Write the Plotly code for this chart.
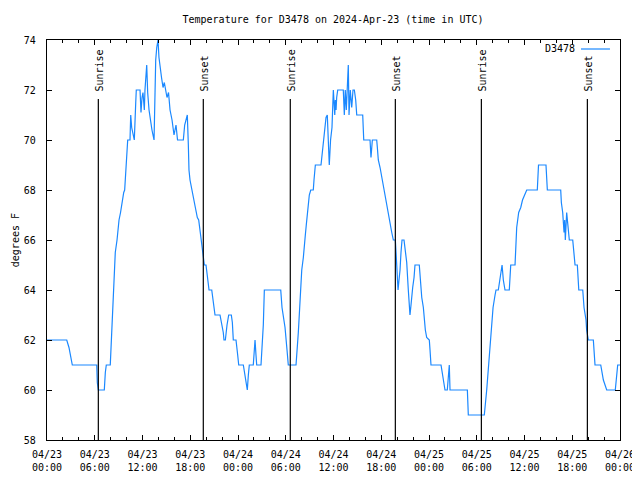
import pandas as pd
import plotly.graph_objects as go

# ---- data ----
start = "2024-04-23 00:00"
station = "D3478"
hours = [0.00, 2.48, 2.76, 2.95, 3.18, 6.25, 6.32, 6.45, 7.20, 7.33, 7.45, 7.95, 8.08, 8.26, 8.38, 8.46, 8.58,
         8.80, 8.92, 9.05, 9.24, 9.39, 9.51, 9.64, 9.76, 9.84, 9.99, 10.09, 10.14, 10.43, 10.52, 10.64, 10.81,
         10.97, 11.15, 11.22, 11.69, 11.81, 11.94, 12.06, 12.23, 12.31, 12.53, 12.65, 12.82, 13.01, 13.19,
         13.45, 13.66, 13.79, 13.95, 14.07, 14.20, 14.39, 14.58, 14.74, 15.08, 15.27, 15.46, 15.71, 15.96,
         16.21, 16.40, 17.13, 17.30, 17.47, 17.63, 17.76, 17.84, 17.97, 18.18, 18.38, 18.64, 18.89, 19.06,
         19.26, 19.39, 19.52, 19.64, 19.77, 19.98, 20.11, 20.23, 20.36, 20.70, 20.95, 21.11, 21.74, 21.99,
         22.15, 22.24, 22.41, 22.62, 22.83, 23.16, 23.29, 23.41, 23.75, 23.96, 24.09, 24.67, 24.88, 25.17,
         25.30, 25.42, 25.92, 26.05, 26.14, 26.26, 26.35, 26.89, 26.98, 27.18, 27.31, 29.37, 29.53, 29.70,
         29.91, 30.16, 30.32, 31.29, 31.45, 31.58, 31.70, 31.79, 31.92, 32.01, 32.21, 32.33, 32.46, 32.58,
         32.71, 32.84, 32.96, 33.14, 33.46, 33.55, 33.72, 34.43, 34.52, 34.65, 34.72, 34.85, 35.06, 35.22,
         35.47, 35.63, 35.81, 35.98, 36.07, 36.16, 36.23, 36.32, 36.40, 36.53, 37.23, 37.36, 37.48, 37.61,
         37.86, 37.95, 38.11, 38.29, 38.45, 38.62, 38.79, 38.92, 39.67, 39.80, 40.59, 40.71, 40.88, 41.43,
         41.51, 41.63, 41.85, 42.01, 42.19, 42.26, 42.47, 42.69, 42.89, 43.10, 43.32, 43.52, 43.77, 43.86,
         43.98, 44.11, 44.23, 44.36, 44.48, 44.61, 44.86, 44.99, 45.20, 45.40, 45.55, 45.61, 45.74, 45.87,
         45.95, 46.12, 46.24, 46.78, 46.94, 47.09, 47.29, 47.41, 47.54, 47.71, 48.04, 48.13, 48.25, 49.51,
         49.72, 50.01, 50.30, 50.43, 50.55, 50.64, 52.82, 52.94, 54.95, 55.25, 55.45, 55.67, 55.88, 56.05,
         56.30, 56.42, 56.71, 56.92, 57.18, 57.34, 57.55, 58.09, 58.27, 58.81, 58.90, 59.02, 59.27, 59.53,
         59.75, 59.98, 60.28, 61.61, 61.76, 62.70, 62.87, 64.55, 64.63, 64.80, 64.97, 65.05, 65.13, 65.30,
         65.51, 65.63, 66.06, 66.22, 66.35, 66.64, 66.82, 67.32, 67.48, 67.73, 67.81, 68.02, 68.65, 68.86,
         69.58, 69.91, 70.33, 71.41, 71.71, 72.00]
temps = [62.0, 62.0, 61.7, 61.3, 61.0, 61.0, 60.3, 60.0, 60.0, 60.7, 61.0, 61.0, 62.0, 62.8, 63.6, 64.5, 65.5,
         66.0, 66.5, 66.8, 67.1, 67.4, 67.7, 67.9, 68.0, 68.4, 69.0, 69.7, 70.0, 70.0, 71.0, 70.5, 70.3,
         70.0, 71.5, 72.0, 72.0, 71.1, 71.7, 71.9, 71.2, 72.0, 73.0, 71.9, 71.2, 70.7, 70.4,
         70.0, 73.2, 73.7, 74.0, 73.3, 72.9, 72.5, 72.1, 72.3, 71.7, 71.9, 71.2, 70.8, 70.2,
         70.6, 70.0, 70.0, 70.6, 70.8, 71.0, 69.8, 68.8, 68.4, 68.0, 67.7, 67.3, 66.9, 66.8,
         66.3, 66.0, 65.7, 65.4, 65.0, 65.0, 64.7, 64.2, 64.0, 64.0, 63.4, 63.0, 63.0, 62.6,
         62.3, 62.0, 62.0, 62.6, 63.0, 63.0, 62.7, 62.0, 62.0, 61.4, 61.0, 61.0, 60.5, 60.0,
         60.6, 61.0, 61.0, 61.6, 62.0, 61.4, 61.0, 61.0, 61.4, 62.6, 64.0, 64.0, 63.3, 63.0,
         62.5, 61.6, 61.0, 61.0, 61.6, 62.3, 63.0, 63.6, 64.4, 64.8, 65.3, 65.9, 66.2, 66.6,
         67.1, 67.4, 67.8, 68.0, 68.0, 68.4, 69.0, 69.0, 69.3, 69.7, 70.0, 70.4, 70.9, 71.0,
         69.0, 70.0, 70.5, 72.0, 71.3, 71.0, 71.6, 71.2, 71.7, 72.0, 72.0, 71.0, 72.0, 71.2,
         73.0, 71.0, 72.0, 71.3, 72.0, 72.0, 71.6, 71.0, 71.0, 70.0, 70.0, 69.3, 70.0, 70.0,
         69.7, 69.2, 68.9, 68.6, 68.4, 68.2, 67.8, 67.5, 67.1, 66.6, 66.3, 66.0, 66.0, 65.5,
         64.9, 64.0, 64.4, 64.8, 65.5, 66.0, 66.0, 65.7, 65.1, 64.0, 63.3, 63.0, 63.4, 63.7,
         64.1, 64.5, 65.0, 65.0, 64.3, 63.7, 63.3, 62.8, 62.4, 62.1, 62.0, 61.6, 61.0, 61.0,
         60.5, 60.0, 60.0, 60.7, 61.0, 60.0, 60.0, 59.0, 59.0, 60.0, 60.8, 61.7, 62.8, 63.3,
         63.8, 64.0, 64.0, 64.4, 65.0, 64.4, 64.0, 64.0, 65.0, 65.0, 65.6, 66.5, 67.1, 67.3,
         67.6, 67.8, 68.0, 68.0, 69.0, 69.0, 68.0, 68.0, 67.5, 67.1, 66.3, 66.8, 66.0, 67.1,
         66.2, 66.0, 66.0, 65.5, 65.0, 65.0, 64.0, 64.0, 63.3, 62.8, 62.4, 62.0, 62.0, 61.0,
         61.0, 60.4, 60.0, 60.0, 61.0, 61.0]
sun_events = ["Sunrise", "Sunset", "Sunrise", "Sunset", "Sunrise", "Sunset"]
sun_hours = [6.45, 19.64, 30.57, 43.77, 54.58, 67.90]
y_ticks = [58, 60, 62, 64, 66, 68, 70, 72, 74]

# ---- build ----
base = pd.Timestamp(start)
t = [base + pd.Timedelta(hours=h) for h in hours]
sun_t = [base + pd.Timedelta(hours=h) for h in sun_hours]
end = base + pd.Timedelta(hours=72)

FONT = "DejaVu Sans Mono"
FS = 10
LINE_COLOR = "#1a88ff"
OFF = 8  # page body margin offset

W, H = 640 - OFF, 480 - OFF

fig = go.Figure()
fig.add_trace(go.Scatter(x=t, y=temps, mode="lines", name=station,
                         line=dict(color=LINE_COLOR, width=1.2), showlegend=False))

for name, st in zip(sun_events, sun_t):
    fig.add_shape(type="line", xref="x", yref="paper", x0=st, x1=st, y0=0, y1=0.8525,
                  line=dict(color="black", width=1.2))
    fig.add_annotation(x=st, y=0.867, xref="x", yref="paper", text=name, textangle=-90,
                       showarrow=False, xanchor="center", yanchor="bottom", xshift=1,
                       font=dict(family=FONT, size=FS, color="black"))

# legend replica: text then line sample
fig.add_annotation(x=0.925, y=0.9775, xref="paper", yref="paper", text=station, showarrow=False,
                   xanchor="right", yanchor="middle", font=dict(family=FONT, size=FS, color="black"))
fig.add_shape(type="line", xref="paper", yref="paper", x0=0.9319, x1=0.9825, y0=0.9775, y1=0.9775,
              line=dict(color=LINE_COLOR, width=1.2))

fig.add_annotation(x=-0.0555, y=0.5, xref="paper", yref="paper", text="degrees F", textangle=-90,
                   showarrow=False, xanchor="center", yanchor="middle",
                   font=dict(family=FONT, size=FS, color="black"))

fig.update_layout(
    width=W, height=H,
    margin=dict(l=47 - OFF, r=20, t=40 - OFF, b=40, autoexpand=False),
    paper_bgcolor="white", plot_bgcolor="white",
    font=dict(family=FONT, size=FS, color="black"),
    title=dict(text="Temperature for D3478 on 2024-Apr-23 (time in UTC)", x=(333 - OFF) / W, xanchor="center",
               y=1 - (19 - OFF) / H, yanchor="middle", font=dict(family=FONT, size=FS, color="black")),
    showlegend=False,
)
fig.update_xaxes(range=[base, end], dtick=6 * 3600 * 1000, tick0=base, tickformat="%m/%d<br>%H:%M",
                 ticks="inside", ticklen=5, tickcolor="black", tickwidth=1,
                 minor=dict(dtick=2 * 3600 * 1000, ticks="inside", ticklen=3, tickcolor="black", showgrid=False),
                 showline=True, linecolor="black", linewidth=1.2, mirror="allticks", automargin=False,
                 showgrid=False, zeroline=False, ticklabelstandoff=5)
fig.update_yaxes(range=[58, 74], tickvals=y_ticks, ticks="inside", ticklen=5, tickcolor="black",
                 showline=True, linecolor="black", linewidth=1.2, mirror="allticks", automargin=False,
                 showgrid=False, zeroline=False, ticklabelstandoff=8)

fig.write_html("out.html")
